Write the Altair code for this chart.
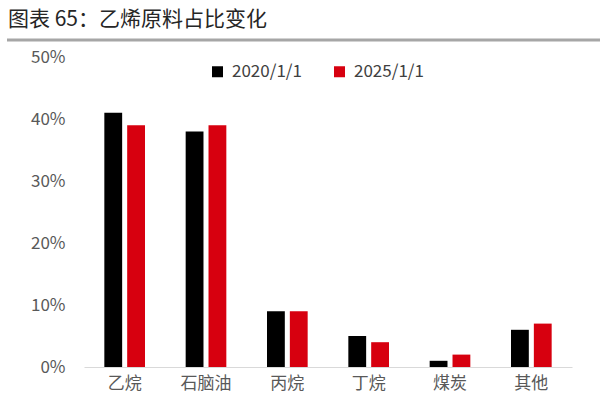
import altair as alt
import pandas as pd

categories = ["乙烷", "石脑油", "丙烷", "丁烷", "煤炭", "其他"]
series_names = ["2020/1/1", "2025/1/1"]
values_2020 = [0.41, 0.38, 0.09, 0.05, 0.01, 0.06]
values_2025 = [0.39, 0.39, 0.09, 0.04, 0.02, 0.07]
colors = ["#000000", "#d7000f"]

rows = []
for c, a, b in zip(categories, values_2020, values_2025):
    rows.append({"cat": c, "series": series_names[0], "value": a})
    rows.append({"cat": c, "series": series_names[1], "value": b})
df = pd.DataFrame(rows)

FONT = "Noto Sans CJK SC"

bars = alt.Chart(df).mark_bar().encode(
    x=alt.X("cat:N", sort=categories, title=None,
            scale=alt.Scale(paddingInner=0.5, paddingOuter=0.25),
            axis=alt.Axis(labelAngle=0, labelFont=FONT, labelFontSize=17,
                          labelColor="#595959", labelPadding=8, ticks=False,
                          domainColor="#d9d9d9", domainWidth=1)),
    xOffset=alt.XOffset("series:N", sort=series_names,
                        scale=alt.Scale(paddingInner=0.22)),
    y=alt.Y("value:Q", title=None,
            scale=alt.Scale(domain=[0, 0.5]),
            axis=alt.Axis(format=".0%", values=[0, 0.1, 0.2, 0.3, 0.4, 0.5],
                          grid=False, domain=False, ticks=False,
                          labelFont=FONT, labelFontSize=17, labelColor="#595959",
                          labelPadding=19)),
    color=alt.Color("series:N", sort=series_names,
                    scale=alt.Scale(domain=series_names, range=colors),
                    legend=alt.Legend(title=None, orient="none", direction="horizontal",
                                      legendX=125, legendY=6,
                                      symbolType="square", symbolSize=121,
                                      symbolStrokeWidth=0, labelFont=FONT,
                                      labelFontSize=17, labelColor="#404040",
                                      labelOffset=6, columnPadding=29)),
)

line = alt.Chart(pd.DataFrame({"a": [0]})).mark_rule(color="#a6a6a6", strokeWidth=3).encode(
    x=alt.value(-77), x2=alt.value(516), y=alt.value(-17)
)

chart = alt.layer(line, bars).properties(
    width=488, height=310,
    title=alt.TitleParams("图表 65：乙烯原料占比变化", anchor="start", frame="group",
                          font=FONT, fontSize=21, fontWeight="normal", color="#262626",
                          dx=-76, dy=-5),
    autosize=alt.AutoSizeParams(type="none"),
    padding={"left": 84, "top": 57, "right": 28, "bottom": 53},
).configure_view(stroke=None)

chart.save("out.html", embed_options={"renderer": "svg", "actions": False})
